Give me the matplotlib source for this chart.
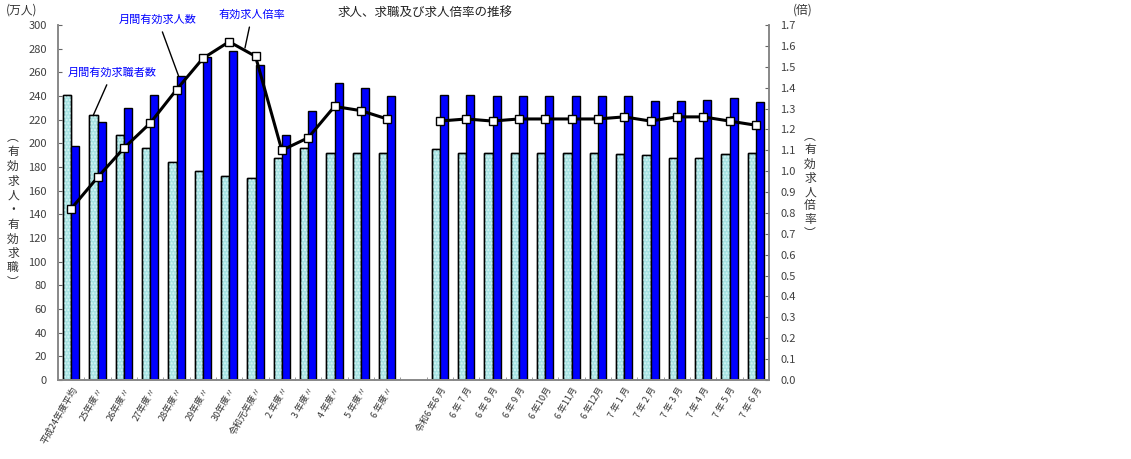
import numpy as np
import matplotlib.pyplot as plt

plt.rcParams['font.family'] = ['Noto Sans CJK JP', 'DejaVu Sans']

# 年度
labels_year = ['平成24年度平均', '25年度〃', '26年度〃', '27年度〃', '28年度〃', '29年度〃',
               '30年度〃', '令和元年度〃', '2 年度〃', '3 年度〃', '4 年度〃', '5 年度〃', '6 年度〃']
seekers_year = [241, 224, 207, 196, 184, 177, 172, 171, 188, 196, 192, 192, 192]
openings_year = [198, 218, 230, 241, 257, 273, 278, 266, 207, 227, 251, 247, 240]
ratio_year = [0.82, 0.97, 1.11, 1.23, 1.39, 1.54, 1.62, 1.55, 1.10, 1.16, 1.31, 1.29, 1.25]

# 月
labels_month = ['令和6 年6 月', '6 年 7 月', '6 年 8 月', '6 年 9 月', '6 年10月', '6 年11月',
                '6 年12月', '7 年 1 月', '7 年 2 月', '7 年 3 月', '7 年 4 月', '7 年 5 月',
                '7 年 6 月']
seekers_month = [195, 192, 192, 192, 192, 192, 192, 191, 190, 188, 188, 191, 192]
openings_month = [241, 241, 240, 240, 240, 240, 240, 240, 236, 236, 237, 238, 235]
ratio_month = [1.24, 1.25, 1.24, 1.25, 1.25, 1.25, 1.25, 1.26, 1.24, 1.26, 1.26, 1.24, 1.22]

xy = np.arange(len(labels_year))
xm = np.arange(len(labels_month)) + len(labels_year) + 1
nslot = len(labels_year) + 1 + len(labels_month)

fig = plt.figure(figsize=(11.31, 4.59), dpi=100)
ax = fig.add_axes([58/1131, 79/459, 711/1131, 355/459])
ax2 = ax.twinx()

w = 0.31
light = '#a6e2e2'
blue = '#0000ff'
for x, s, o in [(xy, seekers_year, openings_year), (xm, seekers_month, openings_month)]:
    ax.bar(x - w/2, s, w, color=light, edgecolor='black', linewidth=1.0, zorder=2)
    ax.bar(x - w/2, s, w, fill=False, hatch='.....', edgecolor='#d6f6f6', linewidth=0, zorder=2)
    ax.bar(x - w/2, s, w, fill=False, edgecolor='black', linewidth=1.0, zorder=2)
    ax.bar(x + w/2, o, w, color=blue, edgecolor='black', linewidth=1.0, zorder=2)

for x, r in [(xy, ratio_year), (xm, ratio_month)]:
    ax2.plot(x, r, color='black', lw=2.2, marker='s', ms=5.2, mfc='white', mec='black',
             mew=1.0, zorder=5)

ax.set_xlim(-0.5, nslot - 0.5)
ax.set_ylim(0, 300)
ax2.set_ylim(0, 1.7)
ax.set_yticks(np.arange(0, 301, 20))
ax2.set_yticks(np.arange(0, 1.71, 0.1))
ax2.set_yticklabels(['%.1f' % v for v in np.arange(0, 1.71, 0.1)])

ax.set_xticks(list(xy) + list(xm))
ax.set_xticklabels(labels_year + labels_month, rotation=60, ha='right', rotation_mode='anchor',
                   fontsize=6.5, color='#333333')
ax.set_xticks(np.arange(-0.5, nslot), minor=True)
ax.tick_params(axis='x', which='major', length=0, pad=4)
ax.tick_params(axis='x', which='minor', direction='in', length=2, color='#888888')
ax.tick_params(axis='y', direction='in', length=3, labelsize=8, labelcolor='#404040',
               color='#666666', pad=8)
ax2.tick_params(axis='y', direction='in', length=3, labelsize=8, labelcolor='#404040',
                color='#666666', pad=8)

for a in (ax, ax2):
    a.spines['top'].set_visible(False)
    for sp in ('left', 'right', 'bottom'):
        a.spines[sp].set_color('#888888')
        a.spines[sp].set_linewidth(1.2)

fig.text(425/1131, 1 - 12/459, '求人、求職及び求人倍率の推移', ha='center', va='center',
         fontsize=9, color='#222222')
fig.text(6/1131, 1 - 10/459, '(万人)', ha='left', va='center', fontsize=8.5, color='#333333')
fig.text(803/1131, 1 - 10/459, '(倍)', ha='center', va='center', fontsize=8.5, color='#333333')
fig.text(13/1131, 1 - 210/459, '︵\n有\n効\n求\n人\n・\n有\n効\n求\n職\n︶', ha='center',
         va='center', fontsize=8.5, linespacing=1.15, color='#333333')
fig.text(810/1131, 1 - 185/459, '︵\n有\n効\n求\n人\n倍\n率\n︶', ha='center',
         va='center', fontsize=8.5, linespacing=1.1, color='#333333')

# 注記
arrow = dict(arrowstyle='-', color='black', lw=1.0, shrinkA=3, shrinkB=0)
ax.annotate('月間有効求人数', xy=(xy[4] + w*0.25, 257), xytext=(158, 439),
            textcoords='figure pixels', ha='center', va='center', fontsize=8,
            color='#0000ff', arrowprops=arrow)
ax.annotate('月間有効求職者数', xy=(xy[1] - w/2, 224), xytext=(112, 386),
            textcoords='figure pixels', ha='center', va='center', fontsize=8,
            color='#0000ff', arrowprops=arrow)
ax2.annotate('有効求人倍率', xy=(6.6, 1.59), xytext=(252, 444),
             textcoords='figure pixels', ha='center', va='center', fontsize=8,
             color='#0000ff', arrowprops=arrow)

fig.savefig('out.png', dpi=100)
